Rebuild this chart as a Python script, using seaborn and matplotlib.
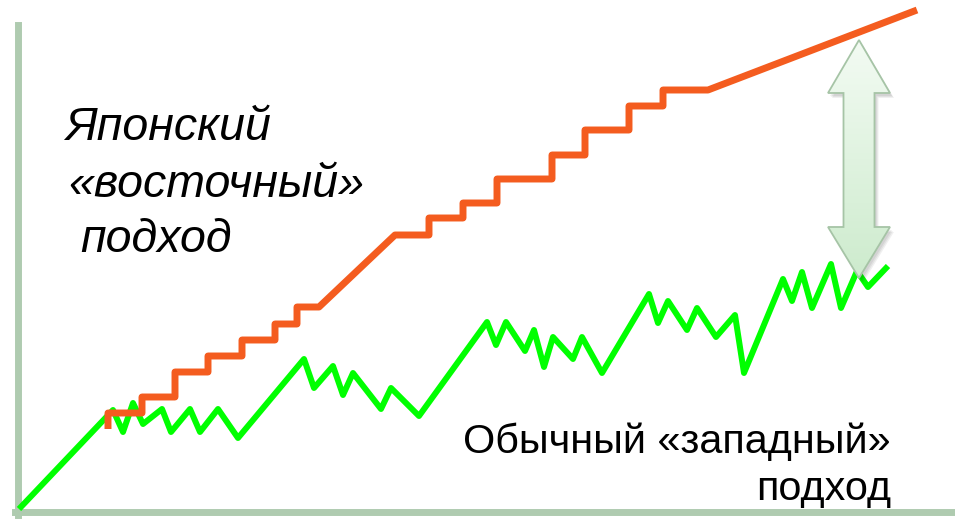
"""
Japanese "eastern" vs usual "western" improvement approach
Stepwise growth line vs noisy growth line
"""

import numpy as np
import pandas as pd
import matplotlib
matplotlib.use("Agg")
import matplotlib.pyplot as plt
import matplotlib.patheffects as pe
from matplotlib.patches import Polygon
from matplotlib.colors import LinearSegmentedColormap
import seaborn as sns

sns.set_style("white")
plt.rcParams["font.family"] = ["Liberation Sans", "DejaVu Sans"]

# ---- data (time, result) ----
western_t = [1, 95, 105, 115, 125, 144, 153, 172, 182, 200,
             220, 286, 296, 315, 325, 335, 363, 373, 401, 469,
             478, 488, 507, 516, 526, 535, 555, 564, 584, 631,
             640, 650, 669, 679, 698, 717, 726, 765, 774, 784,
             794, 813, 823, 839, 850, 870]
western_v = [3, 102, 80, 109, 88, 103, 80, 103, 80, 103,
             74, 153, 124, 146, 117, 139, 103, 124, 96, 190,
             167, 190, 161, 182, 145, 175, 153, 175, 139, 218,
             189, 211, 182, 204, 175, 197, 139, 233, 211, 240,
             204, 248, 204, 241, 225, 246]

eastern_t = [90, 90, 124, 124, 157, 157, 190, 190, 224, 224,
             257, 257, 279, 279, 301, 377, 411, 411, 445, 445,
             479, 479, 534, 534, 567, 567, 611, 611, 645, 645,
             690, 899]
eastern_v = [83, 99, 99, 115, 115, 140, 140, 156, 156, 172,
             172, 188, 188, 205, 205, 277, 277, 294, 294, 309,
             309, 333, 333, 357, 357, 382, 382, 406, 406, 422,
             422, 502]

eastern_label = ["Японский", "«восточный»", "подход"]
western_label = ["Обычный «западный»", "подход"]

df_w = pd.DataFrame({"t": western_t, "v": western_v})
df_e = pd.DataFrame({"t": eastern_t, "v": eastern_v})

fig = plt.figure(figsize=(9.55, 5.19), dpi=100)
ax = fig.add_axes([0, 0, 1, 1])

sns.lineplot(data=df_w, x="t", y="v", sort=False, estimator=None, ax=ax,
             color="#00ff00", linewidth=4.3, zorder=3)
sns.lineplot(data=df_e, x="t", y="v", sort=False, estimator=None, ax=ax,
             color="#f45c1f", linewidth=5.0, zorder=4)
for ln in ax.lines:
    ln.set_solid_joinstyle("round")
    ln.set_solid_capstyle("butt")

# ---- gap arrow (double headed, gradient fill) ----
cx, top, bot = 841, 472, 234
hw, sw, hl = 31, 15.5, 53
arrow_xy = np.array([
    [cx, top], [cx + hw, top - hl], [cx + sw, top - hl], [cx + sw, bot + hl - 2],
    [cx + hw, bot + hl - 2], [cx, bot], [cx - hw, bot + hl - 2], [cx - sw, bot + hl - 2],
    [cx - sw, top - hl], [cx - hw, top - hl],
])
for k in range(3):
    sh = Polygon(arrow_xy + np.array([2 + k, -3 - k]), closed=True,
                 facecolor="black", edgecolor="none", alpha=0.06, zorder=5)
    ax.add_patch(sh)
arrow = Polygon(arrow_xy, closed=True, facecolor="none",
                edgecolor="#a6c4a6", linewidth=1.3, zorder=7)
ax.add_patch(arrow)
grad_cmap = LinearSegmentedColormap.from_list("g", ["#cdebcd", "#f3fbf3"])
grad = np.linspace(0, 1, 256).reshape(-1, 1)
img = ax.imshow(grad, cmap=grad_cmap, origin="lower", aspect="auto",
                extent=[cx - hw, cx + hw, bot, top], zorder=6)
img.set_clip_path(arrow)

# ---- axes as thick light green bars ----
ax.set_xlim(-18, 937)
ax.set_ylim(-7, 512)
ax.set_xticks([])
ax.set_yticks([])
ax.set_xlabel("")
ax.set_ylabel("")
for side in ["top", "right"]:
    ax.spines[side].set_visible(False)
for side in ["left", "bottom"]:
    sp = ax.spines[side]
    sp.set_position(("data", 0))
    sp.set_color("#afcbb0")
    sp.set_linewidth(5.0)
    sp.set_zorder(2)
    sp.set_path_effects([pe.SimplePatchShadow(offset=(-1, -2), shadow_rgbFace="#888888", alpha=0.5),
                         pe.Normal()])
ax.spines["left"].set_bounds(-3, 487)
ax.spines["bottom"].set_bounds(-3, 937)

# ---- labels ----
ax.text(47, 372, eastern_label[0], fontsize=33.5, style="italic", color="black",
        ha="left", va="baseline")
ax.text(50, 315, eastern_label[1], fontsize=33.5, style="italic", color="black",
        ha="left", va="baseline")
ax.text(62, 260, eastern_label[2], fontsize=33.5, style="italic", color="black",
        ha="left", va="baseline")
ax.text(873, 59, western_label[0], fontsize=29.8, color="black", ha="right", va="baseline")
ax.text(873, 12, western_label[1], fontsize=29.8, color="black", ha="right", va="baseline")

fig.savefig("out.png", dpi=100)
plt.close(fig)
